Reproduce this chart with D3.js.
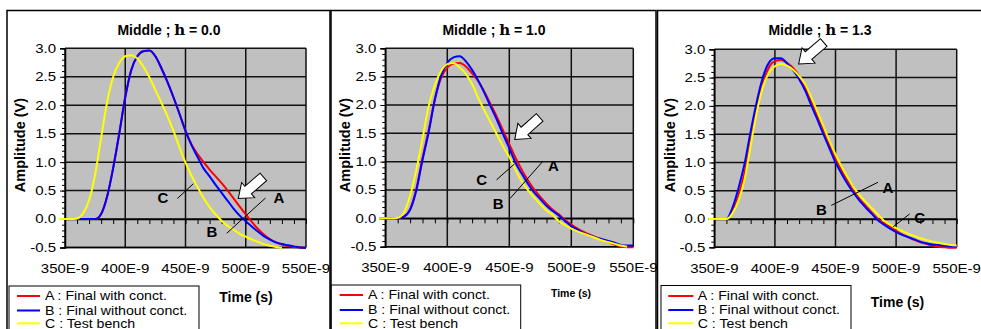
<!DOCTYPE html>
<html>
<head>
<meta charset="utf-8">
<script src="https://cdn.jsdelivr.net/npm/d3@7"></script>
<style>
body { margin: 0; background: #fff; }
svg { display: block; font-family: "Liberation Sans", Arial, sans-serif; }
</style>
</head>
<body>
<div id="vis"></div>
<script>
// time axis in ns (shown as E-9 seconds)
var times = [345,350,355,360,365,370,375,380,385,390,395,400,405,410,415,420,425,430,435,440,
             445,450,455,460,465,470,475,480,485,490,495,500,505,510,515,520,525,530,535,540,545,550];

var etaValues = ["0.0", "1.0", "1.3"];
var seriesNames = ["A : Final with conct.", "B : Final without conct.", "C : Test bench"];

// Middle ; h = 0.0
var p1A = [0,0,0,0,0,0,0,0.09,0.40,0.90,1.50,2.14,2.62,2.86,2.95,2.96,2.86,2.65,2.41,2.14,
           1.85,1.55,1.31,1.14,1.00,0.87,0.75,0.63,0.50,0.36,0.22,0.08,-0.05,-0.17,-0.27,-0.35,-0.41,-0.45,-0.47,-0.49,-0.50,-0.51];
var p1B = [0,0,0,0,0,0,0,0.09,0.40,0.90,1.50,2.14,2.62,2.86,2.95,2.96,2.86,2.65,2.41,2.14,
           1.85,1.55,1.30,1.09,0.89,0.75,0.60,0.46,0.32,0.18,0.06,-0.04,-0.13,-0.22,-0.30,-0.36,-0.41,-0.44,-0.46,-0.48,-0.50,-0.51];
var p1C = [0,0,0,0.01,0.10,0.33,0.78,1.43,2.06,2.50,2.74,2.86,2.88,2.82,2.68,2.49,2.27,2.04,1.81,1.55,
           1.26,0.99,0.76,0.56,0.37,0.21,0.08,-0.03,-0.12,-0.19,-0.26,-0.31,-0.36,-0.40,-0.44,-0.47,-0.49,-0.51,null,null,null,null];

// Middle ; h = 1.0
var p2A = [0,0,0,0,0.03,0.16,0.52,1.06,1.56,2.10,2.48,2.66,2.73,2.74,2.68,2.56,2.42,2.23,2.01,1.79,
           1.55,1.31,1.07,0.86,0.67,0.51,0.38,0.26,0.15,0.07,-0.03,-0.11,-0.18,-0.24,-0.29,-0.33,-0.38,-0.42,-0.46,-0.49,-0.51,-0.51];
var p2B = [0,0,0,0,0.03,0.15,0.49,1.03,1.52,2.10,2.52,2.74,2.84,2.86,2.77,2.62,2.43,2.21,1.97,1.74,
           1.48,1.24,0.98,0.79,0.61,0.46,0.34,0.22,0.13,0.05,-0.05,-0.14,-0.20,-0.26,-0.30,-0.34,-0.37,-0.40,-0.43,-0.47,-0.48,-0.48];
var p2C = [0,0,0,0.01,0.10,0.40,0.85,1.40,1.98,2.35,2.60,2.72,2.74,2.66,2.55,2.37,2.12,1.90,1.69,1.48,
           1.27,1.08,0.86,0.65,0.50,0.37,0.25,0.14,0.06,-0.05,-0.12,-0.18,-0.23,-0.27,-0.31,-0.35,-0.39,-0.42,-0.45,-0.48,-0.50,null];

// Middle ; h = 1.3
var p3A = [0,0,0,0,0.14,0.42,0.82,1.38,1.95,2.40,2.68,2.79,2.81,2.76,2.67,2.53,2.33,2.08,1.83,1.58,
           1.32,1.07,0.86,0.67,0.49,0.35,0.23,0.11,0.00,-0.07,-0.14,-0.21,-0.27,-0.32,-0.37,-0.41,-0.44,-0.47,-0.49,-0.50,-0.51,-0.51];
var p3B = [0,0,0,0,0.20,0.55,0.98,1.55,2.07,2.50,2.76,2.84,2.84,2.75,2.63,2.47,2.27,2.01,1.76,1.50,
           1.25,1.00,0.80,0.62,0.46,0.32,0.20,0.09,-0.02,-0.10,-0.17,-0.23,-0.28,-0.32,-0.36,-0.40,-0.43,-0.45,-0.46,-0.47,-0.48,-0.48];
var p3C = [0,0,0,0,0.10,0.33,0.70,1.30,1.88,2.33,2.58,2.70,2.74,2.71,2.64,2.53,2.38,2.15,1.90,1.64,
           1.38,1.14,0.93,0.74,0.56,0.42,0.30,0.19,0.08,-0.03,-0.10,-0.16,-0.21,-0.26,-0.30,-0.34,-0.37,-0.40,-0.42,-0.44,-0.46,-0.47];

var yTicks = [-0.5, 0.0, 0.5, 1.0, 1.5, 2.0, 2.5, 3.0];
var yTickLabels = ["-0.5", "0.0", "0.5", "1.0", "1.5", "2.0", "2.5", "3.0"];
var xTicks = [350, 400, 450, 500, 550];
var xTickLabels = ["350E-9", "400E-9", "450E-9", "500E-9", "550E-9"];

var colors = ["#ff0000", "#0000ff", "#ffff00"];

// layout of the three panels (pixels); annotations are in data units (ns, V)
var layouts = [
  { left: 7, right: 330, x0: 65, x1: 306, y0: 48.3, y1: 247.5, titleX: 169, yLabelX: 20,
    leg: { x0: 9, x1: 199, top: 286, line0: 17, line1: 40, text: 45, rows: [296, 310.5, 323.3] },
    time: { x: 246, y: 297, size: 14 },
    arrow: { tip: [493.8, 0.36], tail: [514.6, 0.74] },
    labels: [ { t: 527.6, v: 0.37, s: "A" }, { t: 472, v: -0.22, s: "B" }, { t: 431.3, v: 0.37, s: "C" } ],
    leaders: [ [443.2, 0.36, 456.5, 0.62], [484.2, -0.25, 516.4, 0.37] ],
    series: [p1A, p1B, p1C] },
  { left: 331, right: 656, x0: 385.3, x1: 633.3, y0: 48.3, y1: 246.7, titleX: 494, yLabelX: 344.7,
    leg: { x0: 331.3, x1: 520.7, top: 285, line0: 339.7, line1: 363, text: 368, rows: [295, 310, 323.3] },
    time: { x: 571, y: 293, size: 10.5 },
    arrow: { tip: [454.4, 1.39], tail: [474.5, 1.78] },
    labels: [ { t: 485.5, v: 0.93, s: "A" }, { t: 441.1, v: 0.26, s: "B" }, { t: 427.7, v: 0.69, s: "C" } ],
    leaders: [ [439.7, 0.68, 454.2, 0.96], [450.6, 0.35, 477.2, 1.01] ],
    series: [p2A, p2B, p2C] },
  { left: 657.5, right: 995, x0: 714.3, x1: 956.7, y0: 49.3, y1: 247.3, titleX: 820, yLabelX: 670,
    leg: { x0: 661, x1: 851, top: 285.5, line0: 668.3, line1: 693.3, text: 697.7, rows: [296, 310, 323.3] },
    time: { x: 897.5, y: 301.7, size: 14 },
    arrow: { tip: [419.6, 2.74], tail: [440.3, 3.12] },
    labels: [ { t: 493.2, v: 0.55, s: "A" }, { t: 438.3, v: 0.16, s: "B" }, { t: 519.5, v: 0.03, s: "C" } ],
    leaders: [ [446.5, 0.24, 485.1, 0.65], [497.5, -0.14, 511.2, 0.09] ],
    series: [p3A, p3B, p3C] }
];

var svg = d3.select("#vis")
    .append("svg")
    .attr("width", 981)
    .attr("height", 329);

svg.append("rect").attr("width", 981).attr("height", 329).attr("fill", "#fff");

// text stretched horizontally, like the original rendering
function stext(g, x, y, str, size, sx, anchor) {
  return g.append("text")
      .attr("transform", "translate(" + x + "," + y + ") scale(" + sx + ",1)")
      .attr("dy", "0.35em")
      .attr("font-size", size)
      .attr("text-anchor", anchor)
      .text(str);
}

layouts.forEach(function(L, i) {
  var g = svg.append("g").attr("class", "panel");

  var x = d3.scaleLinear().domain([350, 550]).range([L.x0, L.x1]);
  var y = d3.scaleLinear().domain([-0.5, 3.0]).range([L.y1, L.y0]);

  // panel frame
  g.append("rect")
      .attr("x", L.left).attr("y", 10.5)
      .attr("width", L.right - L.left).attr("height", 340)
      .attr("fill", "#fff").attr("stroke", "#000").attr("stroke-width", 1.5);

  // plot area
  g.append("rect")
      .attr("x", L.x0).attr("y", L.y0)
      .attr("width", L.x1 - L.x0).attr("height", L.y1 - L.y0)
      .attr("fill", "#c0c0c0");

  // grid
  g.selectAll(".hgrid").data(yTicks).enter().append("line")
      .attr("x1", L.x0).attr("x2", L.x1)
      .attr("y1", function(d) { return y(d); }).attr("y2", function(d) { return y(d); })
      .attr("stroke", "#111").attr("stroke-width", 1.5);
  g.selectAll(".vgrid").data(xTicks).enter().append("line")
      .attr("y1", L.y0).attr("y2", L.y1)
      .attr("x1", function(d) { return x(d); }).attr("x2", function(d) { return x(d); })
      .attr("stroke", "#111").attr("stroke-width", 1.5);

  // y axis: major and minor ticks
  var yAxis = g.append("g").attr("transform", "translate(" + L.x0 + ",0)")
      .call(d3.axisLeft(y).tickValues(yTicks).tickSize(5).tickFormat(""));
  g.append("g").attr("transform", "translate(" + L.x0 + ",0)")
      .call(d3.axisLeft(y).tickValues(d3.range(-0.5, 3.001, 0.1)).tickSize(3).tickFormat(""))
      .select(".domain").remove();
  yAxis.select(".domain").attr("stroke", "#000").attr("stroke-width", 1.5);

  // x axis crossing at 0 with minor ticks
  var xAxis = g.append("g").attr("transform", "translate(0," + y(0) + ")")
      .call(d3.axisBottom(x).tickValues(d3.range(350, 551, 10)).tickSize(5).tickSizeOuter(0).tickFormat(""));
  xAxis.select(".domain").attr("stroke", "#000").attr("stroke-width", 1.5);

  // bottom border
  g.append("line").attr("x1", L.x0).attr("x2", L.x1).attr("y1", L.y1).attr("y2", L.y1)
      .attr("stroke", "#000").attr("stroke-width", 1.5);

  // tick labels
  yTicks.forEach(function(v, k) {
    stext(g, L.x0 - 9, y(v), yTickLabels[k], 12.5, 1.2, "end");
  });
  xTicks.forEach(function(v, k) {
    stext(g, x(v), L.y1 + 21, xTickLabels[k], 12.5, 1.2, "middle");
  });

  // curves
  var line = d3.line()
      .defined(function(d) { return d != null; })
      .x(function(d, k) { return x(times[k]); })
      .y(function(d) { return y(d); })
      .curve(d3.curveMonotoneX);

  L.series.forEach(function(s, k) {
    g.append("path")
        .datum(s)
        .attr("d", line)
        .attr("fill", "none")
        .attr("stroke", colors[k])
        .attr("stroke-width", 2);
  });

  // leader lines and labels
  L.leaders.forEach(function(l) {
    g.append("line")
        .attr("x1", x(l[0])).attr("y1", y(l[1]))
        .attr("x2", x(l[2])).attr("y2", y(l[3]))
        .attr("stroke", "#000").attr("stroke-width", 1);
  });
  L.labels.forEach(function(l) {
    g.append("text")
        .attr("x", x(l.t)).attr("y", y(l.v))
        .attr("dy", "0.36em")
        .attr("text-anchor", "middle")
        .attr("font-size", 15)
        .attr("font-weight", "bold")
        .text(l.s);
  });

  // block arrow
  var tip = [x(L.arrow.tip[0]), y(L.arrow.tip[1])],
      tail = [x(L.arrow.tail[0]), y(L.arrow.tail[1])];
  var len = Math.hypot(tip[0] - tail[0], tip[1] - tail[1]);
  var ang = Math.atan2(tip[1] - tail[1], tip[0] - tail[0]) * 180 / Math.PI;
  var hl = 13, hw = 10, sw = 5;
  var pts = [[0, 0], [-hl, -hw], [-hl, -sw], [-len, -sw], [-len, sw], [-hl, sw], [-hl, hw]];
  g.append("path")
      .attr("d", "M" + pts.join("L") + "Z")
      .attr("transform", "translate(" + tip[0] + "," + tip[1] + ") rotate(" + ang + ")")
      .attr("fill", "#fff")
      .attr("stroke", "#000")
      .attr("stroke-width", 1);

  // title
  var title = g.append("text")
      .attr("x", L.titleX).attr("y", 30)
      .attr("dy", "0.35em")
      .attr("text-anchor", "middle")
      .attr("font-size", 14)
      .attr("font-weight", "bold");
  title.append("tspan").text("Middle ; ");
  title.append("tspan").attr("font-family", "'DejaVu Serif', serif").attr("font-size", 15).text("h");
  title.append("tspan").text(" = " + etaValues[i]);

  // axis titles
  g.append("text")
      .attr("transform", "translate(" + L.yLabelX + ",145) rotate(-90)")
      .attr("dy", "0.35em")
      .attr("text-anchor", "middle")
      .attr("font-size", 14.5)
      .attr("font-weight", "bold")
      .text("Amplitude (V)");
  g.append("text")
      .attr("x", L.time.x).attr("y", L.time.y)
      .attr("dy", "0.35em")
      .attr("text-anchor", "middle")
      .attr("font-size", L.time.size)
      .attr("font-weight", "bold")
      .text("Time (s)");

  // legend
  g.append("rect")
      .attr("x", L.leg.x0).attr("y", L.leg.top)
      .attr("width", L.leg.x1 - L.leg.x0).attr("height", 60)
      .attr("fill", "#fff").attr("stroke", "#000").attr("stroke-width", 1);
  seriesNames.forEach(function(name, k) {
    g.append("line")
        .attr("x1", L.leg.line0).attr("x2", L.leg.line1)
        .attr("y1", L.leg.rows[k]).attr("y2", L.leg.rows[k])
        .attr("stroke", colors[k]).attr("stroke-width", 2);
    stext(g, L.leg.text, L.leg.rows[k], name, 12, 1.18, "start");
  });
});
</script>
</body>
</html>
